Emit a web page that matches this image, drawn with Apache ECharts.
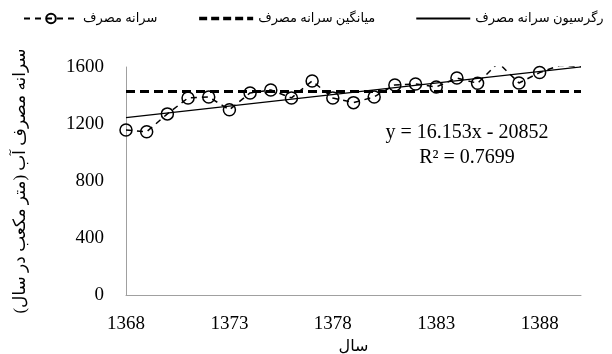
<!DOCTYPE html>
<html>
<head>
<meta charset="utf-8">
<script src="https://cdn.jsdelivr.net/npm/echarts@6/dist/echarts.min.js"></script>
<style>
html, body { margin: 0; padding: 0; background: #fff; }
#container { width: 612px; height: 354px; }
</style>
</head>
<body>
<div id="container"></div>
<script>
// years and per-capita water use
var years = [1368, 1369, 1370, 1371, 1372, 1373, 1374, 1375, 1376, 1377, 1378, 1379,
    1380, 1381, 1382, 1383, 1384, 1385, 1386, 1387, 1388, 1389, 1390];
var usage = [1158, 1146, 1271, 1383, 1390, 1300, 1418, 1439, 1383, 1502, 1383, 1350,
    1390, 1474, 1481, 1460, 1523, 1486, 1630, 1488, 1561, 1612, 1603];
var xTicks = [1368, 1373, 1378, 1383, 1388];
var yTicks = [0, 400, 800, 1200, 1600];
// trend line as printed on the chart
var slope = 16.153;
var intercept = -20852;
var r2 = 0.7699;

var nameUsage = 'سرانه مصرف';
var nameMean = 'میانگین سرانه مصرف';
var nameTrend = 'رگرسیون سرانه مصرف';

var serif = "'Liberation Serif', 'DejaVu Serif', 'DejaVu Sans'";

var pts = years.map(function (y, i) { return [y, usage[i]]; });
var mean = usage.reduce(function (a, b) { return a + b; }, 0) / usage.length;
var x0 = years[0], x1 = years[years.length - 1];
var meanData = [[x0, mean], [x1, mean]];
var trendData = [[x0, slope * x0 + intercept], [x1, slope * x1 + intercept]];

var noSymbol = { color: 'rgba(0,0,0,0)', borderWidth: 0 };

var dom = document.getElementById("container");
var myChart = echarts.init(dom);
var option = {
    animation: false,
    textStyle: { fontFamily: serif, color: '#000' },
    legend: {
        left: 18,
        top: 7,
        width: 600,
        itemWidth: 54,
        itemHeight: 12,
        itemGap: 40,
        textStyle: { fontFamily: serif, fontSize: 13, color: '#000' },
        data: [
            { name: nameUsage },
            { name: nameMean, itemStyle: noSymbol, lineStyle: { width: 3.5, type: [8, 4] } },
            { name: nameTrend, itemStyle: noSymbol }
        ]
    },
    grid: {
        left: 126, right: 31, top: 67, bottom: 59,
        containLabel: false,
        outerBoundsMode: 'none'
    },
    xAxis: {
        type: 'value',
        min: x0,
        max: x1,
        interval: 1,
        name: 'سال',
        nameLocation: 'middle',
        nameGap: 42,
        nameTextStyle: { fontFamily: serif, fontSize: 16, color: '#000' },
        axisLine: { show: true, lineStyle: { color: '#a0a0a0', width: 1 } },
        axisTick: { show: false },
        splitLine: { show: false },
        axisLabel: {
            margin: 20,
            fontSize: 19,
            color: '#000',
            showMinLabel: true,
            showMaxLabel: true,
            formatter: function (v) { return xTicks.indexOf(v) >= 0 ? String(v) : ''; }
        }
    },
    yAxis: {
        type: 'value',
        min: yTicks[0],
        max: yTicks[yTicks.length - 1],
        interval: yTicks[1] - yTicks[0],
        name: 'سرانه مصرف آب (متر مکعب در سال)',
        nameLocation: 'middle',
        nameRotate: 90,
        nameGap: 97,
        nameTextStyle: { fontFamily: serif, fontSize: 17, color: '#000' },
        axisLine: { show: true, lineStyle: { color: '#a0a0a0', width: 1 } },
        axisTick: { show: false },
        splitLine: { show: false },
        axisLabel: {
            margin: 22,
            fontSize: 19,
            color: '#000',
            formatter: function (v) { return String(v); }
        }
    },
    series: [{
        name: nameUsage,
        type: 'line',
        data: pts,
        symbol: 'circle',
        symbolSize: 12,
        clip: true,
        itemStyle: { color: 'rgba(255,255,255,0)', borderColor: '#000', borderWidth: 1.5 },
        lineStyle: { color: '#000', width: 1.5, type: [6, 5] },
        z: 4
    }, {
        name: nameMean,
        type: 'line',
        data: meanData,
        symbol: 'none',
        itemStyle: { color: '#000' },
        lineStyle: { color: '#000', width: 3, type: [9, 5] },
        z: 2
    }, {
        name: nameTrend,
        type: 'line',
        data: trendData,
        symbol: 'none',
        clip: true,
        itemStyle: { color: '#000' },
        lineStyle: { color: '#000', width: 1.3, type: 'solid' },
        z: 3
    }],
    graphic: [{
        type: 'text',
        style: {
            x: 467,
            y: 123,
            text: 'y = ' + slope + 'x - ' + Math.abs(intercept),
            font: "20px 'Liberation Serif'",
            fill: '#000',
            align: 'center',
            verticalAlign: 'top'
        }
    }, {
        type: 'text',
        style: {
            x: 467,
            y: 148,
            text: 'R² = ' + r2,
            font: "20px 'Liberation Serif'",
            fill: '#000',
            align: 'center',
            verticalAlign: 'top'
        }
    }]
};
if (option && typeof option === "object") {
    myChart.setOption(option, true);
}
</script>
</body>
</html>
